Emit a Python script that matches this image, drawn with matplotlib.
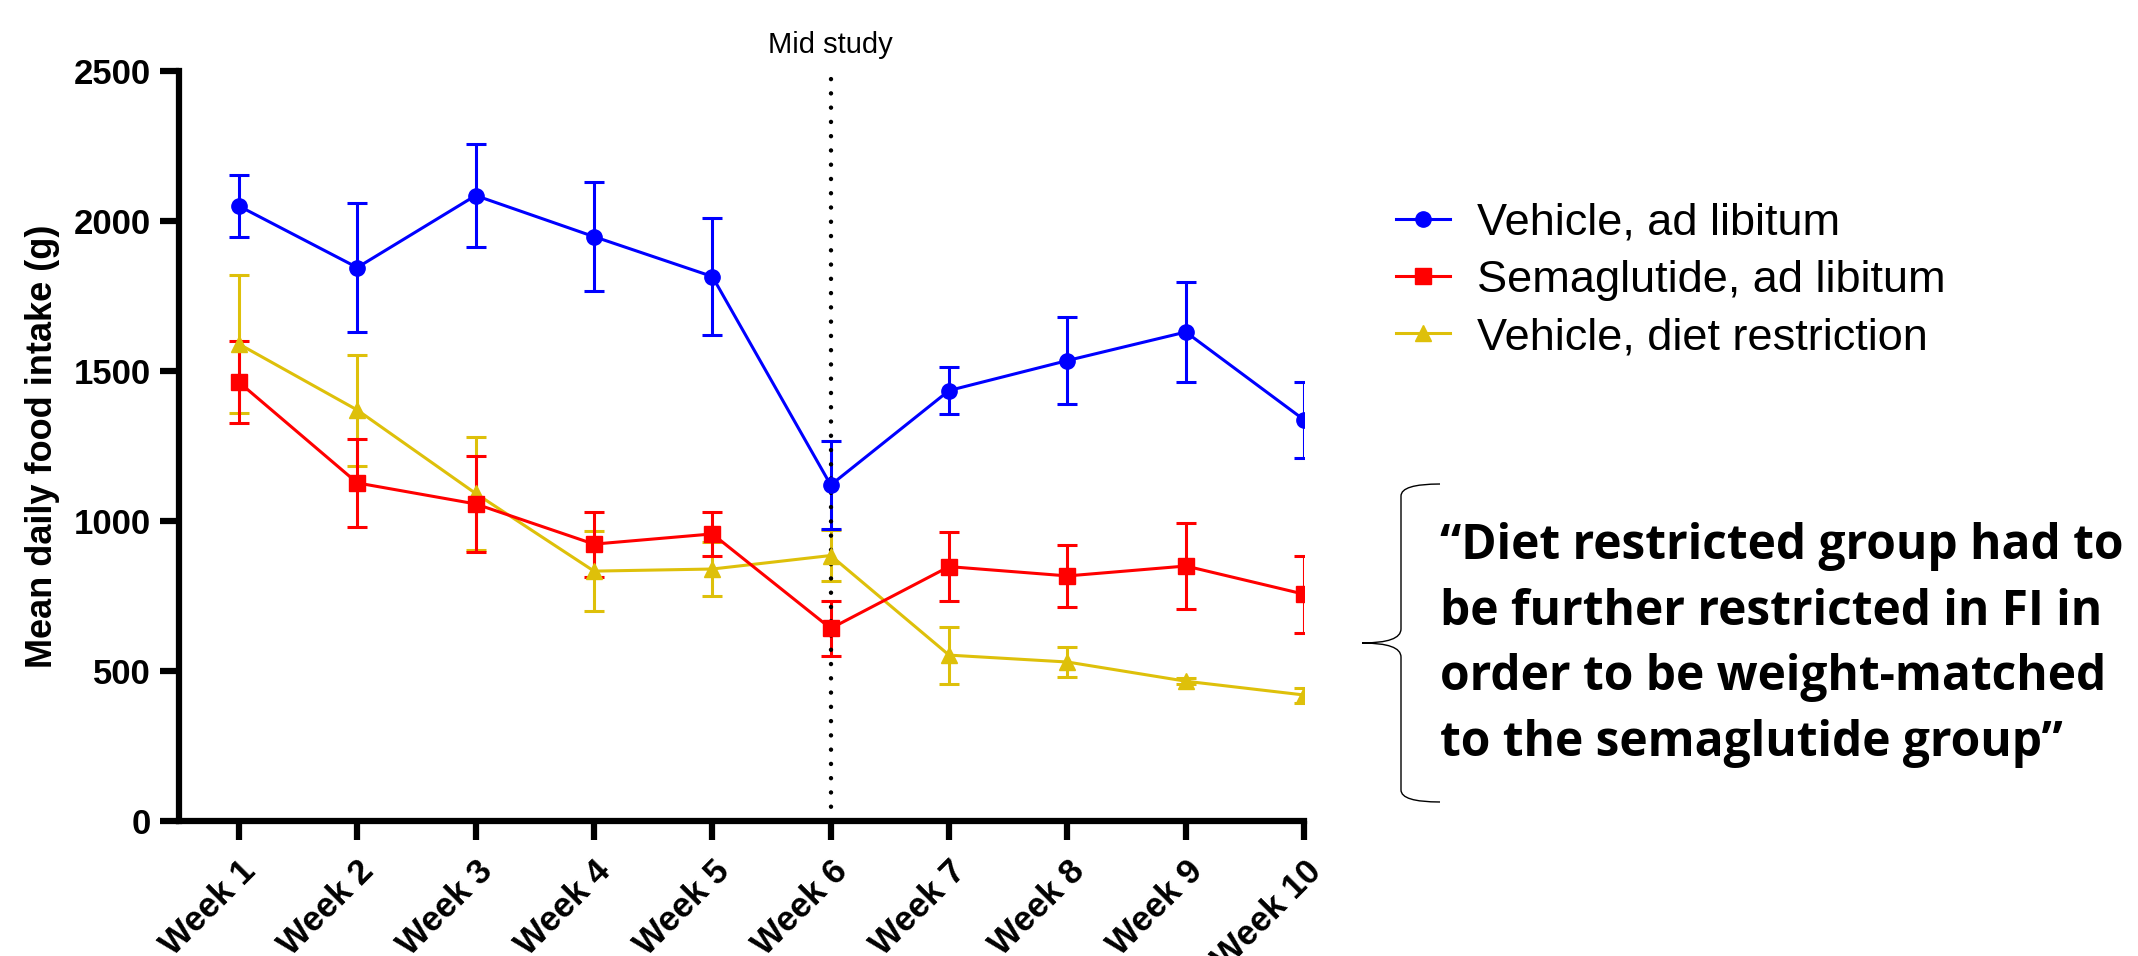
import numpy as np
import matplotlib
matplotlib.use("Agg")
import matplotlib.pyplot as plt
from matplotlib.path import Path
from matplotlib.patches import PathPatch

plt.rcParams['font.family'] = ['Liberation Sans', 'DejaVu Sans']

weeks = np.arange(1, 11)
week_labels = ["Week %d" % w for w in weeks]

veh_adlib = [2050, 1845, 2085, 1948, 1815, 1120, 1435, 1535, 1630, 1337]
veh_adlib_err = [103, 215, 173, 181, 194, 146, 78, 144, 168, 126]

sema_adlib = [1463, 1127, 1057, 923, 957, 642, 848, 817, 850, 756]
sema_adlib_err = [137, 146, 160, 108, 73, 92, 115, 103, 142, 128]

veh_diet = [1590, 1370, 1092, 833, 840, 885, 553, 530, 466, 420]
veh_diet_err = [230, 185, 188, 133, 89, 86, 95, 50, 10, 25]

mid_week = 6

fig = plt.figure(figsize=(21.38, 9.56), dpi=100)
ax = fig.add_axes([0.0835, 0.1412, 0.5265, 0.7845])

series = [
    (veh_diet, veh_diet_err, '#DEC00A', '^', "Vehicle, diet restriction", 3),
    (sema_adlib, sema_adlib_err, '#FF0000', 's', "Semaglutide, ad libitum", 4),
    (veh_adlib, veh_adlib_err, '#0000FF', 'o', "Vehicle, ad libitum", 5),
]
handles = {}
for vals, err, col, mk, lab, z in series:
    ax.errorbar(weeks, vals, yerr=err, fmt='none', ecolor=col, elinewidth=2.2,
                capsize=7, capthick=2.2, zorder=z)
    ln, = ax.plot(weeks, vals, color=col, lw=2.2, marker=mk, ms=11, mec=col,
                  mfc=col, label=lab, zorder=z + 10)
    handles[lab] = ln

# mid-study reference line
ax.plot([mid_week, mid_week], [0, 2500], color='black', lw=3.2,
        linestyle=(0, (0.01, 3.2)), dash_capstyle='round', zorder=12,
        clip_on=False)
ax.annotate("Mid study", xy=(mid_week, 2500), xytext=(0, 13),
            textcoords='offset points', ha='center', va='baseline', fontsize=21)

ax.set_xlim(0.49, 10)
ax.set_ylim(0, 2500)
ax.set_yticks([0, 500, 1000, 1500, 2000, 2500])
ax.set_xticks(weeks)
ax.set_xticklabels(week_labels, rotation=45, ha='right', va='top',
                   rotation_mode='anchor')
for s in ['top', 'right']:
    ax.spines[s].set_visible(False)
for s in ['left', 'bottom']:
    ax.spines[s].set_linewidth(4.5)
ax.tick_params(axis='both', width=4.5, length=14, labelsize=25, pad=6)
ax.tick_params(axis='x', pad=10)
for t in ax.get_xticklabels() + ax.get_yticklabels():
    t.set_fontweight('bold')
ax.set_ylabel("Mean daily food intake (g)", fontsize=26, fontweight='bold',
              labelpad=10)

order = ["Vehicle, ad libitum", "Semaglutide, ad libitum", "Vehicle, diet restriction"]
fig.legend([handles[k] for k in order], order, loc='upper left',
           bbox_to_anchor=(0.6445, 0.807), frameon=False, fontsize=32.5,
           handlelength=1.2, handletextpad=0.6, labelspacing=0.36,
           borderaxespad=0)

# annotation with brace (overlay in pixel coords)
ov = fig.add_axes([0, 0, 1, 1], zorder=-1)
ov.set_xlim(0, 2138)
ov.set_ylim(956, 0)
ov.axis('off')
bx, tipx, endx = 1401, 1362, 1440
top, mid, bot = 484, 643, 802
verts = [(endx, top), (bx, top), (bx, top + 12), (bx, top + 12),
         (bx, mid - 14), (bx, mid), (tipx, mid),
         (bx, mid), (bx, mid + 14), (bx, bot - 12),
         (bx, bot - 12), (bx, bot), (endx, bot)]
codes = [Path.MOVETO, Path.CURVE3, Path.CURVE3, Path.LINETO,
         Path.LINETO, Path.CURVE3, Path.CURVE3,
         Path.CURVE3, Path.CURVE3, Path.LINETO,
         Path.LINETO, Path.CURVE3, Path.CURVE3]
ov.add_patch(PathPatch(Path(verts, codes), fill=False, lw=1, ec='black'))

note = ("\u201cDiet restricted group had to\n"
        "be further restricted in FI in\n"
        "order to be weight-matched\n"
        "to the semaglutide group\u201d")
fig.text(1440 / 2138, 1 - 645 / 956, note, family=['Open Sans', 'DejaVu Sans'],
         fontweight='bold', fontsize=34.5, ha='left', va='center',
         linespacing=1.45)

fig.savefig("out.png", dpi=100)
